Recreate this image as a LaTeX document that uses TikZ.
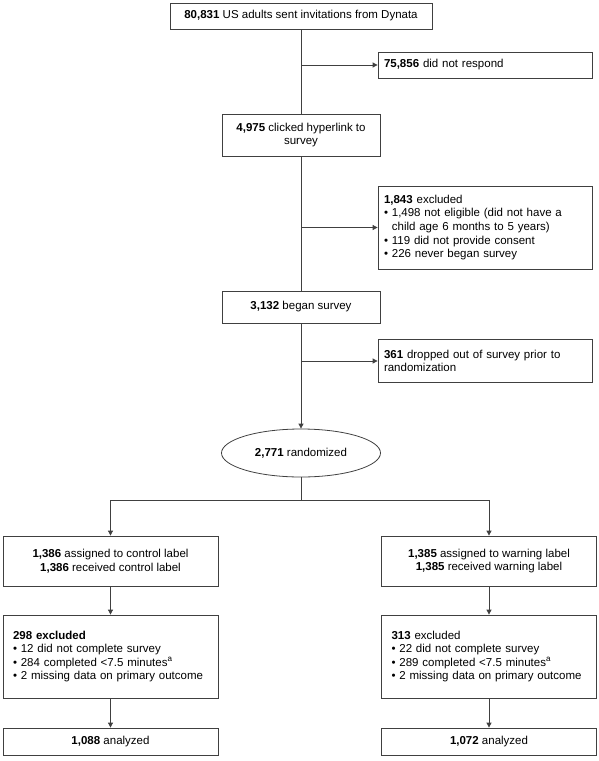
\documentclass[tikz,border=0pt]{standalone}
\usepackage{fontspec}
\setmainfont{Liberation Sans}
\usetikzlibrary{arrows.meta,shapes.geometric}

\begin{document}
\begin{tikzpicture}[x=1pt,y=1pt,
    font=\fontsize{11.5}{13.6}\selectfont,
    box/.style={draw=black!75, line width=0.8pt, rectangle, inner xsep=6pt, inner ysep=2pt},
    midbox/.style={box, align=center, minimum width=158pt},
    sidebox/.style={box, text width=202pt, align=left},
    armbox/.style={box, align=center, minimum width=215pt},
    exbox/.style={box, inner xsep=10pt, text width=195pt, align=left, minimum height=83pt},
    conn/.style={draw=black!75, line width=0.8pt},
    arr/.style={conn, -{Triangle[length=5pt,width=5pt]}}]

                % Fix the page size
                \useasboundingbox (0,0) rectangle (599,-761);

                % Define the enrolment steps
                \node[box, minimum width=262pt, minimum height=26pt] (top) at (301,-16)
                    {\textbf{80,831} US adults sent invitations from Dynata};
                \node[sidebox, minimum height=26pt] (noresp) at (485,-65)
                    {\textbf{75,856} did not respond};
                \node[midbox, minimum height=42pt] (click) at (301,-135)
                    {\textbf{4,975} clicked hyperlink to\\survey};
                \node[sidebox, minimum height=83pt] (excl) at (485,-227.5)
                    {\textbf{1,843} excluded\\
                     \textbullet\ 1,498 not eligible (did not have a\\
                     \hphantom{\textbullet\ }child age 6 months to 5 years)\\
                     \textbullet\ 119 did not provide consent\\
                     \textbullet\ 226 never began survey};
                \node[midbox, minimum height=32pt] (began) at (301,-307)
                    {\textbf{3,132} began survey};
                \node[sidebox, minimum height=43pt] (drop) at (485,-361)
                    {\textbf{361} dropped out of survey prior to\\randomization};

                % Define the randomization
                \node[ellipse, draw=black!75, line width=0.8pt, inner sep=0pt,
                      minimum width=159pt, minimum height=48pt] (rand) at (301,-453)
                    {\textbf{2,771} randomized};
                \coordinate (split) at (301,-500);

                % Define the two arms
                \node[armbox, minimum height=50pt] (ctrl) at (110.5,-561)
                    {\textbf{1,386} assigned to control label\\\textbf{1,386} received control label};
                \node[armbox, minimum height=50pt] (warn) at (489,-561)
                    {\textbf{1,385} assigned to warning label\\\textbf{1,385} received warning label};
                \node[exbox] (exctrl) at (110.5,-656.5)
                    {\textbf{298 excluded}\\
                     \textbullet\ 12 did not complete survey\\
                     \textbullet\ 284 completed <7.5 minutes\textsuperscript{a}\\
                     \textbullet\ 2 missing data on primary outcome\\[6pt]};
                \node[exbox] (exwarn) at (489,-656.5)
                    {\textbf{313} excluded\\
                     \textbullet\ 22 did not complete survey\\
                     \textbullet\ 289 completed <7.5 minutes\textsuperscript{a}\\
                     \textbullet\ 2 missing data on primary outcome\\[6pt]};
                \node[armbox, minimum height=27pt] (anctrl) at (110.5,-741.5)
                    {\textbf{1,088} analyzed};
                \node[armbox, minimum height=27pt] (anwarn) at (489,-741.5)
                    {\textbf{1,072} analyzed};

                % Add the main line and the side arrows
                \draw[conn] (top) -- (click);
                \draw[arr] (top.south |- noresp) -- (noresp);
                \draw[conn] (click) -- (began);
                \draw[arr] (click.south |- excl) -- (excl);
                \draw[arr] (began) -- (rand);
                \draw[arr] (began.south |- drop) -- (drop);

                % Add the split into the two arms
                \draw[conn] (rand) -- (split);
                \draw[arr] (split) -| (ctrl);
                \draw[arr] (split) -| (warn);
                \draw[arr] (ctrl) -- (exctrl);
                \draw[arr] (warn) -- (exwarn);
                \draw[arr] (exctrl) -- (anctrl);
                \draw[arr] (exwarn) -- (anwarn);

            \end{tikzpicture}
\end{document}
